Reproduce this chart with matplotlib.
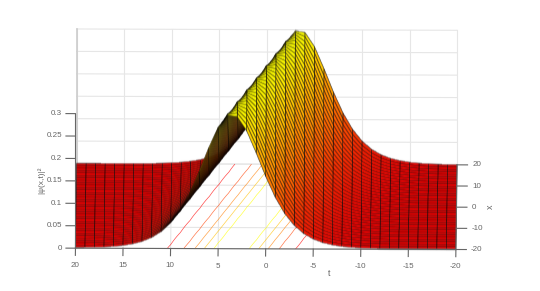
import numpy as np
import matplotlib
matplotlib.use('Agg')
import matplotlib.pyplot as plt
from mpl_toolkits.mplot3d import proj3d

plt.rcParams['font.family'] = ['Liberation Sans', 'DejaVu Sans']

# eixos do grafico
t_vals = np.arange(-20, 21)
x_rows = np.linspace(-20, 20, 36)
t_ticks = [20, 15, 10, 5, 0, -5, -10, -15, -20]
x_ticks = [-20, -10, 0, 10, 20]
z_ticks = [0, 0.05, 0.1, 0.15, 0.2, 0.25, 0.3]
z_labels = ['0', '0.05', '0.1', '0.15', '0.2', '0.25', '0.3']
levels = [0.05, 0.1, 0.15, 0.2, 0.25]

# altura, em passos de 0.2 a partir do centro da crista
profile = np.array([
    .3000, .2994, .2975, .2944, .2901, .2847, .2783, .2709, .2627, .2539,
    .2445, .2346, .2244, .2139, .2033, .1927, .1822, .1717, .1615, .1516,
    .1419, .1326, .1237, .1152, .1071, .0994, .0921, .0853, .0788, .0728,
    .0672, .0619, .0570, .0525, .0482, .0443, .0407, .0374, .0343, .0314,
    .0288, .0264, .0241, .0221, .0202, .0185, .0169, .0154, .0141, .0129,
    .0118, .0107, .0098, .0090, .0082, .0075, .0068, .0062, .0057, .0052,
    .0047, .0043, .0039, .0036, .0033, .0030, .0027, .0025, .0023, .0021,
    .0019, .0017, .0016, .0014, .0013, .0012, .0011, .0010, .0009, .0008,
    .0008])
ridge_slope = 0.175
ridge_shift = -0.1

T, X = np.meshgrid(t_vals, x_rows)
idx = np.rint(np.abs(T + ridge_slope * X + ridge_shift) / 0.2).astype(int)
Z = profile[np.minimum(idx, len(profile) - 1)]

fig = plt.figure(figsize=(5.4, 2.91), dpi=100)
ax = fig.add_axes([0.0828, -0.240, 0.799, 1.483], projection='3d', computed_zorder=False)
ax.set_proj_type('ortho')
ax.set_box_aspect((382, 170, 156))
ax.view_init(elev=30, azim=-89.6)
ax.set_xlim(20, -20)
ax.set_ylim(-20, 20)
ax.set_zlim(0, 0.3)
ax.set_axis_off()

grid_c = '#e6e6e6'
axis_c = '#666666'


# texto em coordenadas 2D da projecao
def label3d(t, x, z, s, **kw):
    px, py, _ = proj3d.proj_transform(t, x, z, ax.get_proj())
    ax.text2D(px, py, s, transform=ax.transData, color=axis_c, va='center', zorder=5, **kw)


# suaviza so na vertical, senao aparece moire nas linhas finas
def soften(img, dpi):
    p = np.pad(img, ((2, 2), (2, 2), (0, 0)))
    p = (np.roll(p, 1, 0) + 4 * p + np.roll(p, -1, 0)) / 6
    return p, -2, -2


for t in t_ticks:
    ax.plot([t, t], [20, 20], [0, 0.3], color=grid_c, lw=0.8, zorder=1)
    ax.plot([t, t], [-20, 20], [0, 0], color=grid_c, lw=0.8, zorder=1)
for z in z_ticks:
    ax.plot([-20, 20], [20, 20], [z, z], color=grid_c, lw=0.8, zorder=1)
for x in x_ticks:
    ax.plot([-20, 20], [x, x], [0, 0], color=grid_c, lw=0.8, zorder=1)
ax.plot([20, 20], [-20, 20], [0, 0], color='#cccccc', lw=1, zorder=1)
ax.plot([20, 20], [20, 20], [0, 0.3], color='#cccccc', lw=1.2, zorder=1)

ax.contour(T, X, Z, levels=levels, cmap='autumn', offset=0, linewidths=0.5, zorder=2, alpha=0.7)
surf = ax.plot_surface(T, X, Z, cmap='autumn', rstride=1, cstride=1, edgecolor='k', linewidth=0.35,
                       shade=False, antialiased=True, zorder=3)
surf.set_snap(False)
surf.set_agg_filter(soften)

# eixos desenhados a mao para ficar igual ao original
ax.plot([20, -20], [-20, -20], [0, 0], color=axis_c, lw=0.8, zorder=4)
ax.plot([20, 20], [-20, -20], [0, 0.3], color=axis_c, lw=0.8, zorder=4)
ax.plot([-20, -20], [-20, 20], [0, 0], color=axis_c, lw=0.8, zorder=4)

for t in t_ticks:
    ax.plot([t, t], [-20, -23.4], [0, 0], color=axis_c, lw=0.8, zorder=4)
    label3d(t, -28.2, 0, str(t), fontsize=5.8, ha='center')
for x in x_ticks:
    ax.plot([-20, -21.1], [x, x], [0, 0], color=axis_c, lw=0.8, zorder=4)
    label3d(-21.6, x, 0, str(x), fontsize=5.8, ha='left')
for z, lab in zip(z_ticks, z_labels):
    ax.plot([20, 21], [-20, -20], [z, z], color=axis_c, lw=0.8, zorder=4)
    label3d(21.4, -20, z, lab, fontsize=5.8, ha='right')

label3d(-6.7, -31.5, 0, 't', fontsize=6.5, ha='center')
label3d(-23.6, 0.3, 0, 'x', fontsize=6.5, rotation=90, ha='center')
label3d(23.6, -20, 0.151, '|ψ(x,t)|²', fontsize=6, rotation=90, ha='center')

fig.savefig('out.png', dpi=100)
